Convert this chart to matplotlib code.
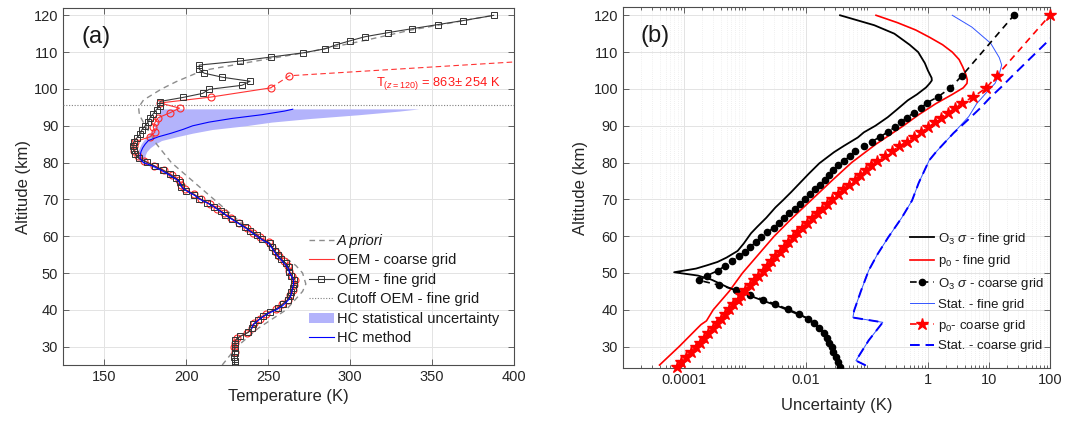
import numpy as np
import matplotlib
matplotlib.use("Agg")
import matplotlib.pyplot as plt
from matplotlib.lines import Line2D
from matplotlib.patches import Patch
from matplotlib.ticker import FixedLocator, NullFormatter

plt.rcParams['font.family'] = ['Liberation Sans', 'DejaVu Sans']
plt.rcParams['mathtext.fontset'] = 'custom'
plt.rcParams['mathtext.rm'] = 'Liberation Sans'
plt.rcParams['mathtext.it'] = 'Liberation Sans:italic'
plt.rcParams['mathtext.bf'] = 'Liberation Sans:bold'

# ---------------- Panel (a) data ----------------
apr_alt = [25, 30, 35, 40, 45, 47, 50, 52, 55, 60, 65, 70, 75, 80, 85, 88, 90, 93, 95, 97,
           100, 102, 105, 107, 110, 113, 116, 120]
apr_T = [222, 231, 244, 261, 271, 273, 271, 267, 258, 243, 230, 217, 204, 191, 182, 178, 175,
         171.5, 171, 174, 185, 194, 210, 235, 274, 307, 337, 387]

fine_alt = [25.1, 26.2, 27.3, 28.4, 29.5, 30.6, 31.7, 32.8, 33.9, 35.0, 36.1, 37.2, 38.3, 39.4,
            40.5, 41.6, 42.7, 43.8, 44.9, 46.0, 47.1, 48.2, 49.3, 50.4, 51.5, 52.6, 53.7, 54.8,
            55.9, 57.0, 58.1, 59.2, 60.3, 61.4, 62.5, 63.6, 64.7, 65.8, 66.9, 68.0, 69.1, 70.2,
            71.3, 72.4, 73.5, 74.6, 75.7, 76.8, 77.9, 79.0, 80.1, 81.2, 82.3, 83.4, 84.5, 85.6,
            86.7, 87.8, 88.9, 90.0, 91.1, 92.2, 93.3, 94.4, 95.5, 96.6, 97.7, 98.8, 99.9, 101.0,
            102.1, 103.2, 104.3, 105.4, 106.5, 107.6, 108.7, 109.8, 110.9, 112.0, 113.1, 114.2,
            115.3, 116.4, 117.5, 118.6, 120.0]
fine_T = [229.5, 229.5, 229.3, 229.5, 229.6, 229.8, 230.0, 233.0, 238.0, 240.0, 241.0, 244.0,
          247.0, 251.0, 256.0, 259.0, 262.0, 263.5, 264.0, 265.0, 265.5, 265.5, 264.0, 263.0,
          262.5, 261.0, 258.0, 256.0, 254.0, 252.5, 251.0, 246.0, 243.5, 239.0, 236.0, 232.0,
          228.0, 224.0, 221.0, 217.0, 213.0, 208.0, 205.0, 200.0, 197.0, 196.0, 194.0, 190.0,
          186.0, 181.0, 176.0, 171.0, 169.0, 168.0, 167.5, 168.0, 170.0, 172.0, 173.0, 175.0,
          177.0, 178.0, 180.0, 182.0, 184.0, 184.0, 198.0, 210.0, 214.0, 234.0, 239.0, 222.0,
          211.0, 208.0, 208.0, 233.0, 252.0, 271.0, 284.5, 291.5, 300.0, 309.0, 323.0, 338.0,
          353.5, 369.0, 387.5]

coarse_alt = [24.6, 25.9, 27.2, 28.5, 29.8, 31.1, 32.4, 33.7, 35.0, 36.3, 37.6, 38.9, 40.2, 41.5,
              42.8, 44.1, 45.4, 46.7, 48.0, 49.3, 50.6, 51.9, 53.2, 54.5, 55.8, 57.1, 58.4, 59.7,
              61.0, 62.3, 63.6, 64.9, 66.2, 67.5, 68.8, 70.1, 71.4, 72.7, 74.0, 75.3, 76.6, 77.9,
              79.2, 80.5, 81.8, 83.1, 84.4, 85.7, 87.0, 88.3, 89.6, 90.9, 92.2, 93.5, 94.8, 96.2,
              97.8, 100.3, 103.6, 120.0]
coarse_T = [np.nan, np.nan, np.nan, 229.5, 229.0, 229.5, 231.0, 237.0, 240.0, 241.5, 245.0,
            249.0, 254.5, 258.5, 262.0, 263.5, 265.0, 266.0, 266.5, 264.5, 263.0, 262.0, 259.5,
            256.5, 254.5, 252.5, 250.5, 245.0, 241.0, 237.0, 232.0, 227.5, 223.0, 219.0, 214.5,
            209.0, 205.0, 199.5, 197.0, 195.5, 191.5, 186.5, 180.5, 174.5, 170.5, 168.5, 168.0,
            169.0, 178.0, 181.0, 180.0, 181.0, 183.0, 190.0, 196.0, 184.0, 215.0, 251.5, 263.0,
            863.0]

hc_alt = [35, 36, 37, 38, 39, 40, 41, 42, 43, 44, 45, 46, 47, 48, 49, 50, 51, 52, 53, 54, 55,
          56, 57, 58, 59, 60, 61, 62, 63, 64, 65, 66, 67, 68, 69, 70, 71, 72, 73, 74, 75, 76,
          77, 78, 79, 80, 81, 82, 83, 84, 85, 86, 87, 88, 89, 90, 91, 92, 93, 94, 94.5]
hc_T = [240, 241, 243.5, 246.5, 250, 255, 258.5, 261, 263, 264, 264.5, 265, 265.5, 265.5,
        264.5, 263, 262.5, 261, 259, 257, 255, 253.5, 252, 250.5, 246.5, 243, 240, 237, 233.5,
        230, 226.5, 223.5, 220, 217, 213, 208.5, 205.5, 201.5, 198, 196.5, 195.5, 192, 188.5,
        184.5, 180, 174, 172, 172, 172.5, 173.5, 175, 177, 183, 191, 198, 204, 214, 228, 246,
        260, 265]

band_alt = [76, 78, 80, 81, 82, 83, 84, 85, 86, 87, 88, 89, 90, 91, 92, 93, 94, 94.6]
band_low = [191, 183.5, 172.5, 170.5, 170, 170.5, 171.5, 172.5, 174, 176, 178, 180, 181, 182,
            183, 183.5, 184, 185]
band_high = [193, 186, 176, 175, 175, 176, 178, 181, 185, 194, 204, 216, 236, 252, 276, 305,
             330, 342]

cutoff_alt = 95.6

# ---------------- Panel (b) data ----------------
o3_fine_alt = [24.3, 26, 28.2, 31, 33.6, 35.5, 37.7, 40.7, 43.4, 46.1, 48.2, 49.3, 50.2, 51.2,
               52.1, 53, 54.2, 56, 58, 60.8, 62.5, 65, 67.8, 69.7, 72, 74.6, 77, 79.8, 82.8,
               84.5, 86.8, 88.2, 90, 92.3, 94.5, 96.9, 98.5, 100.4, 101.5, 102.3, 103, 105, 107,
               110, 112, 115, 117.3, 120]
o3_fine = [0.0372, 0.0331, 0.0288, 0.0245, 0.0200, 0.0158, 0.0107, 0.00389, 0.00141, 5.25e-4,
           2.82e-4, 1.70e-4, 6.9e-5, 1.58e-4, 2.40e-4, 3.55e-4, 5.01e-4, 7.59e-4, 9.55e-4,
           1.26e-3, 1.58e-3, 2.24e-3, 3.16e-3, 4.17e-3, 5.75e-3, 8.13e-3, 0.0112, 0.0166,
           0.0288, 0.0417, 0.0708, 0.0891, 0.138, 0.219, 0.316, 0.468, 0.661, 0.933, 1.07, 1.16,
           1.15, 1.0, 0.891, 0.692, 0.501, 0.282, 0.132, 0.0363]

p0_fine_alt = [25.0, 30, 35, 36.0, 37.0, 40, 45, 50, 55, 60, 65, 70, 75, 80, 85, 90, 93, 96,
               98.5, 100.3, 101.5, 102.5, 104, 106, 108, 110, 112, 114, 116, 118, 120]
p0_fine = [3.98e-5, 8.32e-5, 1.66e-4, 1.91e-4, 2.34e-4, 3.02e-4, 5.50e-4, 9.12e-4, 1.66e-3,
           3.02e-3, 6.03e-3, 0.0126, 0.0263, 0.0562, 0.141, 0.398, 0.708, 1.35, 2.51, 3.80,
           4.37, 4.42, 4.17, 3.72, 3.24, 2.51, 1.74, 1.07, 0.631, 0.316, 0.141]

o3_coarse = [0.0363, 0.0339, 0.0309, 0.0282, 0.0263, 0.0240, 0.0219, 0.0195, 0.0166, 0.0135,
             0.0107, 0.00759, 0.00501, 0.00316, 0.00200, 0.00120, 7.08e-4, 3.80e-4, 1.78e-4,
             2.40e-4, 3.55e-4, 4.68e-4, 6.03e-4, 7.94e-4, 1.0e-3, 1.23e-3, 1.51e-3, 1.86e-3,
             2.34e-3, 2.95e-3, 3.63e-3, 4.37e-3, 5.37e-3, 6.61e-3, 8.13e-3, 9.77e-3, 0.0117,
             0.0141, 0.0170, 0.0204, 0.0240, 0.0282, 0.0339, 0.0417, 0.0537, 0.0646, 0.0891,
             0.120, 0.166, 0.219, 0.288, 0.363, 0.447, 0.589, 0.776, 0.955, 1.45, 2.34, 3.63,
             25.7]

p0_coarse = [7.8e-5, 9.1e-5, 1.10e-4, 1.29e-4, 1.55e-4, 1.82e-4, 2.14e-4, 2.51e-4, 2.95e-4,
             3.47e-4, 3.98e-4, 4.68e-4, 5.50e-4, 6.46e-4, 7.59e-4, 8.71e-4, 1.02e-3, 1.20e-3,
             1.41e-3, 1.66e-3, 1.95e-3, 2.29e-3, 2.69e-3, 3.16e-3, 3.72e-3, 4.37e-3, 5.13e-3,
             6.03e-3, 7.24e-3, 8.71e-3, 0.0105, 0.0126, 0.0151, 0.0182, 0.0219, 0.0269, 0.0331,
             0.0407, 0.0501, 0.0631, 0.0776, 0.0955, 0.117, 0.148, 0.195, 0.257, 0.339, 0.447,
             0.589, 0.776, 1.02, 1.29, 1.62, 2.14, 2.75, 3.63, 5.50, 9.12, 13.5, 100.0]

stat_fine_alt = [24.9, 26.2, 31.7, 36.6, 37.9, 39.8, 45, 50.7, 55, 59.7, 65, 69.7, 74.5, 77,
                 80.6, 83, 88, 92.5, 96, 99, 101.5, 104, 106.5, 108.5, 112.4, 116.8, 120]
stat_fine = [0.0955, 0.0661, 0.107, 0.182, 0.0589, 0.0617, 0.0794, 0.107, 0.148, 0.224, 0.372,
             0.550, 0.708, 0.832, 1.05, 1.38, 2.63, 4.68, 6.31, 9.12, 12.6, 14.8, 16.2, 14.8,
             10.7, 5.25, 2.51]

stat_coarse_alt = [24.9, 26.2, 31.7, 36.6, 37.9, 39.8, 45, 50.7, 55, 59.7, 65, 69.7, 74.5, 77,
                   80.6, 83, 88, 91.5, 94.8, 97.8, 100.3, 103.6, 120]
stat_coarse = [0.0955, 0.0661, 0.107, 0.182, 0.0589, 0.0617, 0.0794, 0.107, 0.148, 0.224,
               0.372, 0.550, 0.708, 0.832, 1.05, 1.38, 2.63, 4.47, 7.24, 10.7, 15.5, 24.5, 251.0]

xticks_b = [1e-4, 1e-2, 1, 10, 100]
xticklabels_b = ['0.0001', '0.01', '1', '10', '100']

# ---------------- Figure ----------------
fig = plt.figure(figsize=(10.7, 4.22), dpi=100)
axa = fig.add_axes([0.059, 0.135, 0.4215, 0.846])
axb = fig.add_axes([0.5822, 0.128, 0.399, 0.855])

spine_col = '#4d4d4d'
txt_col = '#262626'
for ax in (axa, axb):
    for s in ax.spines.values():
        s.set_color(spine_col)
        s.set_linewidth(0.8)
    ax.tick_params(direction='in', which='both', top=True, right=True, colors=spine_col,
                   labelcolor=txt_col, labelsize=10.5, length=4, width=0.6)
    ax.tick_params(which='minor', length=2)
    ax.set_axisbelow(True)

# ---- panel a ----
axa.grid(True, color='#e3e3e3', lw=0.7)
axa.fill_betweenx(band_alt, band_low, band_high, color='#b3b3fb', lw=0, zorder=2)
axa.plot(apr_T, apr_alt, ls=(0, (4, 3)), color='#8c8c8c', lw=1.0, zorder=3)
axa.axhline(cutoff_alt, color='#808080', ls=(0, (1, 1.5)), lw=0.8, zorder=3)
cT = np.array(coarse_T)
ca = np.array(coarse_alt)
solid_end = 57  # index of 100.3 km
axa.plot(cT[:solid_end + 1], ca[:solid_end + 1], color='#ff3333', lw=0.8, zorder=4)
axa.plot(cT[solid_end:], ca[solid_end:], color='#ff3333', lw=0.8, ls=(0, (5, 3)), zorder=4)
axa.plot(cT, ca, ls='none', marker='o', ms=5, mfc='none', mec='#ff2a2a', mew=0.8, zorder=5)
axa.plot(fine_T, fine_alt, color='#3a3a3a', lw=0.8, marker='s', ms=4, mfc='none',
         mec='#333333', mew=0.7, zorder=6)
axa.plot(hc_T, hc_alt, color='#0000ff', lw=0.8, zorder=7)
axa.text(316, 101.5, 'T$_{(z=120)}$ = 863± 254 K', color='#ff1a1a', fontsize=9.3,
         va='center', ha='left')
axa.text(0.04, 0.92, '(a)', transform=axa.transAxes, fontsize=17, va='center', ha='left',
         color='#1a1a1a')
axa.set_xlim(125, 400)
axa.set_ylim(25, 122)
axa.set_xticks([150, 200, 250, 300, 350, 400])
axa.set_yticks([30, 40, 50, 60, 70, 80, 90, 100, 110, 120])
axa.set_xlabel('Temperature (K)', fontsize=12, color=txt_col, labelpad=4)
axa.set_ylabel('Altitude (km)', fontsize=12, color=txt_col, labelpad=2)

handles_a = [
    Line2D([], [], ls=(0, (4, 3)), color='#8c8c8c', lw=1.0),
    Line2D([], [], color='#ff3333', lw=0.8),
    Line2D([], [], color='#3a3a3a', lw=0.8, marker='s', ms=4, mfc='none', mec='#333333', mew=0.7),
    Line2D([], [], color='#808080', ls=(0, (1, 1.5)), lw=0.8),
    Patch(facecolor='#b3b3fb', edgecolor='none'),
    Line2D([], [], color='#0000ff', lw=0.8),
]
labels_a = ['A priori', 'OEM - coarse grid', 'OEM - fine grid', 'Cutoff OEM - fine grid',
            'HC statistical uncertainty', 'HC method']
lega = axa.legend(handles_a, labels_a, loc='upper left', bbox_to_anchor=(0.545, 0.368),
                  frameon=False, fontsize=10.5, handlelength=1.7, handletextpad=0.2,
                  labelspacing=0.38, borderpad=0, borderaxespad=0)
lega.get_texts()[0].set_fontstyle('italic')
for t in lega.get_texts():
    t.set_color('#1a1a1a')

# ---- panel b ----
axb.set_xscale('log')
axb.set_xlim(1e-5, 100)
axb.set_ylim(24.2, 122.2)
axb.xaxis.set_major_locator(FixedLocator(xticks_b))
axb.set_xticklabels(xticklabels_b)
minors = [k * 10.0 ** n for n in range(-5, 2) for k in range(1, 10)
          if not any(np.isclose(k * 10.0 ** n, m) for m in xticks_b)]
axb.xaxis.set_minor_locator(FixedLocator(minors))
axb.xaxis.set_minor_formatter(NullFormatter())
axb.set_yticks([30, 40, 50, 60, 70, 80, 90, 100, 110, 120])
axb.grid(True, which='major', color='#e3e3e3', lw=0.7)
axb.grid(True, which='minor', axis='x', color='#ebebeb', lw=0.6, ls=(0, (1, 1.5)))

axb.plot(stat_fine, stat_fine_alt, color='#3355ff', lw=0.7, zorder=3)
axb.plot(stat_coarse, stat_coarse_alt, color='#0000ff', lw=1.4, ls=(0, (5, 3)), zorder=4)
axb.plot(o3_fine, o3_fine_alt, color='black', lw=1.3, zorder=5)
axb.plot(p0_fine, p0_fine_alt, color='#ff0000', lw=1.2, zorder=5)
axb.plot(o3_coarse, coarse_alt, color='black', lw=1.2, ls=(0, (4, 3)), marker='o', ms=4.5,
         mfc='black', mec='black', zorder=6)
axb.plot(p0_coarse, coarse_alt, color='#ff0000', lw=1.2, ls=(0, (4, 3)), marker='*', ms=9,
         mfc='#ff0000', mec='#ff0000', zorder=6, clip_on=False)
axb.text(0.04, 0.92, '(b)', transform=axb.transAxes, fontsize=17, va='center', ha='left',
         color='#1a1a1a')
axb.set_xlabel('Uncertainty (K)', fontsize=12, color=txt_col, labelpad=8)
axb.set_ylabel('Altitude (km)', fontsize=12, color=txt_col, labelpad=4)

handles_b = [
    Line2D([], [], color='black', lw=1.3),
    Line2D([], [], color='#ff0000', lw=1.2),
    Line2D([], [], color='black', lw=1.2, ls=(0, (4, 3)), marker='o', ms=4.5),
    Line2D([], [], color='#3355ff', lw=0.7),
    Line2D([], [], color='#ff0000', lw=1.2, ls=(0, (4, 3)), marker='*', ms=9),
    Line2D([], [], color='#0000ff', lw=1.4, ls=(0, (5, 3))),
]
labels_b = [r'O$_3$ $\sigma$ - fine grid', r'p$_0$ - fine grid', r'O$_3$ $\sigma$ - coarse grid',
            'Stat. - fine grid', r'p$_0$- coarse grid', 'Stat. - coarse grid']
legb = axb.legend(handles_b, labels_b, loc='upper left', bbox_to_anchor=(0.672, 0.38),
                  frameon=False, fontsize=9.5, handlelength=1.8, handletextpad=0.3,
                  labelspacing=0.5, borderpad=0, borderaxespad=0)
for t in legb.get_texts():
    t.set_color('#1a1a1a')

fig.savefig('out.png', dpi=100)
